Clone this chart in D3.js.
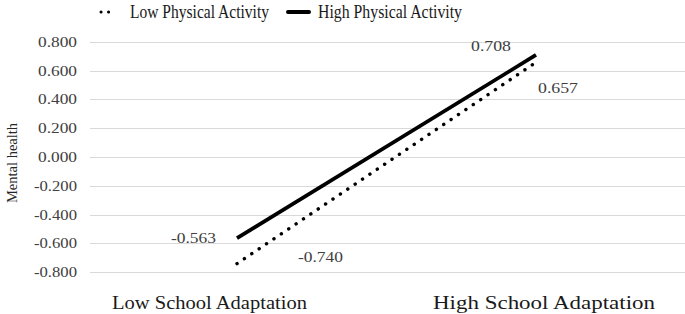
<!DOCTYPE html>
<html><head><meta charset="utf-8">
<script src="https://cdn.jsdelivr.net/npm/d3@7"></script>
<style>body{margin:0;background:#fff;}svg{display:block;font-family:"Liberation Serif","Times New Roman",serif;}</style>
</head><body><svg id="c" width="685" height="314"></svg>
<script>
const categories = ["Low School Adaptation", "High School Adaptation"];
const seriesNames = ["Low Physical Activity", "High Physical Activity"];
const lowPA = [-0.740, 0.657];
const highPA = [-0.563, 0.708];
const yTicks = [-0.8, -0.6, -0.4, -0.2, 0, 0.2, 0.4, 0.6, 0.8];

const fmt = v => d3.format(".3f")(v).replace("\u2212", "-");
const svg = d3.select("#c");
const x = d3.scalePoint().domain(categories).range([237, 536]);
const y = d3.scaleLinear().domain([-0.8, 0.8]).range([272.3, 41.7]);
const gx0 = 90, gx1 = 685;

// gridlines
svg.append("g").selectAll("line").data(yTicks).join("line")
  .attr("x1", gx0).attr("x2", gx1)
  .attr("y1", d => Math.round(y(d)) + 0.5).attr("y2", d => Math.round(y(d)) + 0.5)
  .attr("stroke", "#d9d9d9").attr("stroke-width", 1);

// y axis labels
const yAxis = d3.axisLeft(y).tickValues(yTicks).tickFormat(fmt).tickSize(0).tickPadding(0);
const ga = svg.append("g").attr("transform", `translate(77,0)`).call(yAxis);
ga.select(".domain").remove();
ga.selectAll("text").attr("font-family", "Liberation Serif").attr("font-size", 14).attr("fill", "#404040")
  .attr("textLength", d => d < 0 ? 43 : 39).attr("lengthAdjust", "spacingAndGlyphs");

// y title
svg.append("text").attr("transform", "translate(17,163) rotate(-90)")
  .attr("text-anchor", "middle").attr("font-size", 14.5).attr("fill", "#262626").text("Mental health");

// x category labels
const catPos = [112, 433];
const catLen = [195, 222];
svg.append("g").selectAll("text").data(categories).join("text")
  .attr("x", (d, i) => catPos[i]).attr("y", 309)
  .attr("font-size", 18).attr("fill", "#1a1a1a")
  .attr("textLength", (d, i) => catLen[i]).attr("lengthAdjust", "spacingAndGlyphs")
  .text(d => d);

const line = d3.line().x((d, i) => x(categories[i])).y(d => y(d));

// low PA dotted
svg.append("path").datum(lowPA).attr("d", line).attr("fill", "none")
  .attr("stroke", "#000").attr("stroke-width", 3.4).attr("stroke-linecap", "round")
  .attr("stroke-dasharray", "0.1 8.8");
// high PA solid
svg.append("path").datum(highPA).attr("d", line).attr("fill", "none")
  .attr("stroke", "#000").attr("stroke-width", 3.8);

// data labels
const lbl = (t, xx, yy, len) => svg.append("text").attr("x", xx).attr("y", yy)
  .attr("font-size", 14).attr("fill", "#404040")
  .attr("textLength", len).attr("lengthAdjust", "spacingAndGlyphs").text(t);
lbl(fmt(highPA[0]), x(categories[0]) - 66, y(highPA[0]) + 5, 45);
lbl(fmt(lowPA[0]), x(categories[0]) + 61, y(lowPA[0]) - 2, 45);
lbl(fmt(highPA[1]), x(categories[1]) - 65, y(highPA[1]) - 4, 40);
lbl(fmt(lowPA[1]), x(categories[1]) + 2, y(lowPA[1]) + 31, 40);

// legend
const lg = svg.append("g");
lg.append("line").attr("x1", 101).attr("x2", 116).attr("y1", 12).attr("y2", 12)
  .attr("stroke", "#000").attr("stroke-width", 3).attr("stroke-linecap", "round").attr("stroke-dasharray", "0.1 7.4");
lg.append("text").attr("x", 130).attr("y", 18).attr("font-size", 18).attr("fill", "#1a1a1a")
  .attr("textLength", 139).attr("lengthAdjust", "spacingAndGlyphs").text(seriesNames[0]);
lg.append("line").attr("x1", 288).attr("x2", 309).attr("y1", 12).attr("y2", 12)
  .attr("stroke", "#000").attr("stroke-width", 4).attr("stroke-linecap", "round");
lg.append("text").attr("x", 318).attr("y", 18).attr("font-size", 18).attr("fill", "#1a1a1a")
  .attr("textLength", 144).attr("lengthAdjust", "spacingAndGlyphs").text(seriesNames[1]);
</script></body></html>
